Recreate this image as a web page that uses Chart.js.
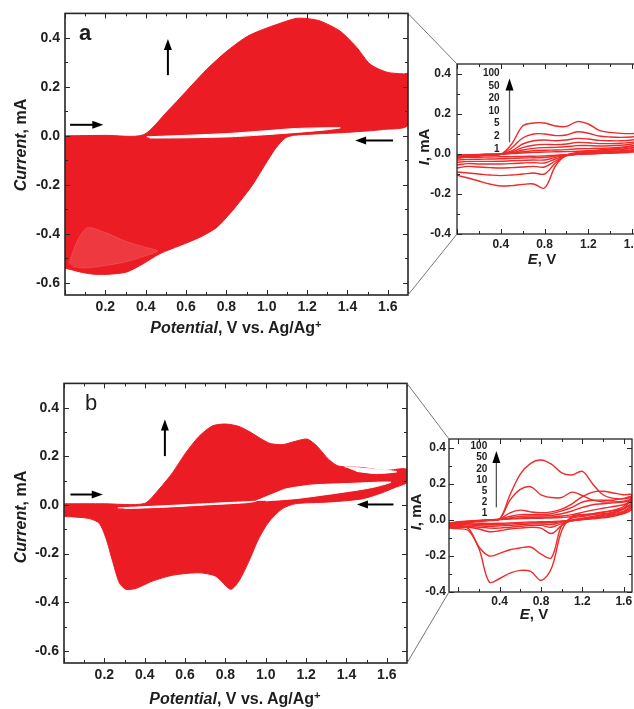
<!DOCTYPE html>
<html>
<head>
<meta charset="utf-8">
<script src="https://cdn.jsdelivr.net/npm/chart.js@4.4.1/dist/chart.umd.min.js"></script>
<style>
  html, body { margin: 0; padding: 0; background: #fff; overflow: hidden; }
  #fig { position: relative; width: 634px; height: 709px; overflow: hidden;
         font-family: "Liberation Sans", Arial, sans-serif; color: #1e1e1e; }
  canvas { position: absolute; }
  #links { position: absolute; left: 0; top: 0; pointer-events: none; }
  .t { position: absolute; font-weight: bold; white-space: nowrap; line-height: 1; }
  .c { transform: translate(-50%, -50%); }
  .r { transform: translate(-50%, -50%) rotate(-90deg); }
  .ra { transform: translate(-100%, -50%); font-size: 10px; }
  .big { font-size: 16px; }
  .small { font-size: 15px; }
  sup { font-size: 0.7em; line-height: 0; vertical-align: 0.45em; }
</style>
</head>
<body>
<div id="fig">
  <canvas id="mainA" width="420" height="340" style="left:0;top:0"></canvas>
  <canvas id="mainB" width="420" height="339" style="left:0;top:370px"></canvas>
  <canvas id="insetA" width="260" height="240" style="left:400px;top:40px"></canvas>
  <canvas id="insetB" width="240" height="230" style="left:400px;top:410px"></canvas>
  <svg id="links" width="634" height="709"></svg>

  <div class="t c" style="left:85px;top:33px;font-size:22px">a</div>
  <div class="t c" style="left:91px;top:403px;font-size:22px;font-weight:normal">b</div>

  <div class="t r big" style="left:21px;top:145px"><i>Current</i>, mA</div>
  <div class="t c big" style="left:236px;top:328px"><i>Potential</i>, V vs. Ag/Ag<sup>+</sup></div>
  <div class="t r big" style="left:21px;top:517px"><i>Current</i>, mA</div>
  <div class="t c big" style="left:235px;top:699px"><i>Potential</i>, V vs. Ag/Ag<sup>+</sup></div>

  <div class="t r small" style="left:423px;top:147px"><i>I</i>, mA</div>
  <div class="t c small" style="left:542px;top:258px"><i>E</i>, V</div>
  <div class="t r small" style="left:415px;top:512px"><i>I</i>, mA</div>
  <div class="t c small" style="left:534px;top:613px"><i>E</i>, V</div>
  <div id="ratesA"></div>
  <div id="ratesB"></div>
</div>
<script>
// colours
const RED = '#ec1c24';
const LINE_RED = '#ef2a2a';

// tick labels
const MAIN_X_TICKS = [0.2, 0.4, 0.6, 0.8, 1.0, 1.2, 1.4, 1.6];
const MAIN_Y_TICKS = [-0.6, -0.4, -0.2, 0.0, 0.2, 0.4];
const INSET_X_TICKS = [0.4, 0.8, 1.2, 1.6];
const INSET_Y_TICKS = [-0.4, -0.2, 0.0, 0.2, 0.4];

// scan rates (mV/s) listed in the insets
const RATES = ['100', '50', '20', '10', '5', '2', '1'];

// panel a: outline of the region swept by the repeated cycles (E in V, I in mA)
const envA_E = [0, 0.2, 0.388, 0.504, 0.603, 0.702, 0.801, 0.901, 0.983, 1.1,
  1.149, 1.2, 1.264, 1.363, 1.446, 1.512, 1.595, 1.677, 1.7, 1.7,
  1.578, 1.413, 1.248, 1.132, 1.09, 1.045, 0.99, 0.93, 0.87, 0.82,
  0.752, 0.669, 0.57, 0.471, 0.388, 0.306, 0.223, 0.14, 0.074, 0];
const envA_I = [0, 0.002, 0.004, 0.097, 0.184, 0.271, 0.345, 0.405, 0.435, 0.469,
  0.48, 0.479, 0.469, 0.428, 0.361, 0.293, 0.26, 0.253, 0.253, 0.044,
  0.026, 0.015, 0.008, 0.002, -0.01, -0.05, -0.12, -0.2, -0.265, -0.315,
  -0.374, -0.414, -0.448, -0.481, -0.522, -0.556, -0.565, -0.565, -0.556, -0.54];
// open gap between the forward and reverse sweeps
const holeA_E = [0.405, 0.6, 0.818, 0.983, 1.147, 1.363, 1.3, 1.147, 0.983, 0.818, 0.6, 0.42];
const holeA_I = [-0.004, 0.002, 0.01, 0.02, 0.03, 0.033, 0.025, 0.014, 0.004, -0.004, -0.008, -0.009];
// paler crescent near the cathodic limit
const shadeA_E = [0.02, 0.06, 0.11, 0.2, 0.3, 0.4, 0.46, 0.4, 0.3, 0.2, 0.1, 0.04];
const shadeA_I = [-0.52, -0.43, -0.375, -0.395, -0.43, -0.455, -0.47, -0.49, -0.515, -0.53, -0.54, -0.535];

// panel b: outline and open gaps
const envB_E = [0, 0.2, 0.398, 0.472, 0.538, 0.604, 0.669, 0.735, 0.801, 0.867,
  0.916, 1.015, 1.081, 1.147, 1.205, 1.254, 1.312, 1.361, 1.476, 1.592,
  1.7, 1.7, 1.641, 1.559, 1.476, 1.312, 1.147, 1.081, 1.015, 0.966,
  0.916, 0.867, 0.826, 0.752, 0.669, 0.538, 0.439, 0.357, 0.307, 0.274,
  0.241, 0.208, 0.175, 0.126, 0.043, 0];
const envB_I = [0.005, 0.005, 0.006, 0.066, 0.133, 0.215, 0.282, 0.325, 0.333, 0.323,
  0.303, 0.255, 0.248, 0.262, 0.271, 0.242, 0.187, 0.16, 0.154, 0.142,
  0.147, 0.093, 0.072, 0.045, 0.025, 0.012, 0.005, -0.016, -0.07, -0.137,
  -0.232, -0.313, -0.347, -0.293, -0.279, -0.289, -0.313, -0.343, -0.347, -0.32,
  -0.232, -0.137, -0.076, -0.056, -0.049, -0.047];
const holeB1_E = [0.266, 0.5, 0.7, 0.867, 0.95, 0.9, 0.7, 0.5, 0.3];
const holeB1_I = [-0.012, -0.003, 0.005, 0.012, 0.015, 0.009, 0.0, -0.009, -0.015];
const holeB2_E = [0.95, 1.05, 1.1, 1.23, 1.4, 1.62, 1.55, 1.476, 1.312, 1.147, 1.0];
const holeB2_I = [0.016, 0.05, 0.066, 0.082, 0.088, 0.094, 0.076, 0.064, 0.044, 0.026, 0.017];
const holeB3_E = [1.39, 1.5, 1.65, 1.55, 1.45];
const holeB3_I = [0.157, 0.15, 0.137, 0.129, 0.138];

// inset a: potential grid, forward sweep (rising E) and reverse sweep (falling E), one row per rate
const insetA_E = [0, 0.1, 0.2, 0.3, 0.4, 0.5, 0.6, 0.7, 0.8, 0.9, 1.0, 1.1, 1.2, 1.3, 1.4, 1.5, 1.6, 1.7];
const insetA_fwd = [
  [-0.02, -0.015, -0.01, -0.006, -0.002, 0.05, 0.14, 0.155, 0.155, 0.14, 0.138, 0.162, 0.15, 0.118, 0.108, 0.103, 0.102, 0.102],
  [-0.018, -0.013, -0.009, -0.005, -0.002, 0.03, 0.08, 0.1, 0.1, 0.092, 0.095, 0.111, 0.104, 0.09, 0.085, 0.083, 0.085, 0.09],
  [-0.015, -0.01, -0.007, -0.004, -0.001, 0.015, 0.05, 0.066, 0.07, 0.066, 0.07, 0.078, 0.075, 0.068, 0.066, 0.066, 0.07, 0.08],
  [-0.012, -0.008, -0.005, -0.003, -0.001, 0.01, 0.032, 0.044, 0.048, 0.047, 0.05, 0.058, 0.056, 0.052, 0.052, 0.054, 0.058, 0.068],
  [-0.01, -0.007, -0.004, -0.002, 0, 0.006, 0.02, 0.028, 0.032, 0.033, 0.036, 0.042, 0.042, 0.04, 0.041, 0.044, 0.05, 0.06],
  [-0.008, -0.005, -0.003, -0.001, 0, 0.004, 0.011, 0.016, 0.019, 0.02, 0.022, 0.026, 0.027, 0.028, 0.03, 0.034, 0.04, 0.05],
  [-0.006, -0.004, -0.002, -0.001, 0, 0.002, 0.005, 0.008, 0.01, 0.011, 0.012, 0.014, 0.016, 0.018, 0.02, 0.024, 0.03, 0.04]
];
const insetA_rev = [
  [0.06, 0.04, 0.03, 0.025, 0.02, 0.015, 0.008, -0.005, -0.06, -0.17, -0.15, -0.152, -0.158, -0.16, -0.15, -0.135, -0.12, -0.107],
  [0.05, 0.03, 0.022, 0.018, 0.014, 0.01, 0.004, -0.008, -0.045, -0.1, -0.095, -0.1, -0.105, -0.108, -0.105, -0.1, -0.095, -0.09],
  [0.04, 0.022, 0.016, 0.012, 0.01, 0.006, 0.0, -0.008, -0.035, -0.065, -0.062, -0.065, -0.068, -0.07, -0.068, -0.065, -0.062, -0.07],
  [0.035, 0.018, 0.012, 0.009, 0.007, 0.004, -0.002, -0.008, -0.025, -0.045, -0.043, -0.045, -0.048, -0.05, -0.05, -0.05, -0.048, -0.055],
  [0.03, 0.015, 0.01, 0.007, 0.005, 0.003, -0.001, -0.006, -0.017, -0.03, -0.03, -0.032, -0.034, -0.036, -0.037, -0.037, -0.037, -0.042],
  [0.025, 0.012, 0.008, 0.005, 0.003, 0.001, -0.001, -0.004, -0.01, -0.018, -0.019, -0.02, -0.022, -0.024, -0.025, -0.026, -0.027, -0.03],
  [0.02, 0.01, 0.006, 0.004, 0.002, 0, -0.001, -0.003, -0.006, -0.01, -0.011, -0.012, -0.013, -0.014, -0.015, -0.016, -0.017, -0.02]
];

// inset b
const insetB_E = [-0.09, 0, 0.1, 0.2, 0.3, 0.4, 0.5, 0.6, 0.7, 0.8, 0.9, 1.0, 1.1, 1.2, 1.3, 1.4, 1.5, 1.6, 1.68];
const insetB_fwd = [
  [-0.04, -0.03, -0.015, -0.005, 0.0, 0.006, 0.14, 0.255, 0.315, 0.333, 0.31, 0.262, 0.25, 0.27, 0.2, 0.14, 0.12, 0.118, 0.125],
  [-0.035, -0.028, -0.015, -0.008, -0.003, 0.005, 0.11, 0.17, 0.185, 0.14, 0.125, 0.125, 0.155, 0.135, 0.11, 0.1, 0.1, 0.105, 0.115],
  [-0.03, -0.022, -0.012, -0.006, -0.002, 0.005, 0.04, 0.055, 0.045, 0.04, 0.045, 0.06, 0.09, 0.13, 0.155, 0.16, 0.15, 0.14, 0.14],
  [-0.025, -0.017, -0.01, -0.005, 0.0, 0.005, 0.02, 0.03, 0.03, 0.03, 0.035, 0.05, 0.07, 0.1, 0.11, 0.11, 0.11, 0.12, 0.13],
  [-0.022, -0.014, -0.008, -0.004, 0, 0.004, 0.012, 0.02, 0.022, 0.022, 0.025, 0.035, 0.05, 0.07, 0.085, 0.09, 0.095, 0.1, 0.11],
  [-0.02, -0.012, -0.007, -0.003, 0, 0.003, 0.008, 0.012, 0.014, 0.015, 0.017, 0.022, 0.03, 0.042, 0.055, 0.065, 0.075, 0.085, 0.1],
  [-0.017, -0.01, -0.006, -0.003, 0, 0.002, 0.005, 0.008, 0.009, 0.01, 0.011, 0.014, 0.018, 0.025, 0.033, 0.042, 0.052, 0.065, 0.085]
];
const insetB_rev = [
  [0.125, 0.075, 0.055, 0.045, 0.035, 0.03, 0.02, -0.06, -0.27, -0.335, -0.285, -0.28, -0.295, -0.325, -0.345, -0.16, -0.06, -0.048, -0.045],
  [0.115, 0.065, 0.045, 0.035, 0.03, 0.02, 0.01, -0.03, -0.21, -0.19, -0.15, -0.155, -0.165, -0.185, -0.2, -0.15, -0.048, -0.042, -0.04],
  [0.1, 0.06, 0.04, 0.03, 0.02, 0.01, 0.0, -0.03, -0.075, -0.045, -0.04, -0.045, -0.05, -0.06, -0.065, -0.05, -0.04, -0.035, -0.032],
  [0.09, 0.05, 0.035, 0.025, 0.015, 0.005, -0.005, -0.02, -0.04, -0.03, -0.03, -0.035, -0.04, -0.045, -0.045, -0.04, -0.035, -0.03, -0.028],
  [0.08, 0.045, 0.03, 0.02, 0.012, 0.004, -0.004, -0.012, -0.025, -0.022, -0.022, -0.025, -0.03, -0.033, -0.035, -0.032, -0.028, -0.025, -0.024],
  [0.07, 0.04, 0.025, 0.016, 0.01, 0.003, -0.003, -0.008, -0.015, -0.015, -0.016, -0.018, -0.022, -0.025, -0.026, -0.025, -0.022, -0.02, -0.02],
  [0.06, 0.035, 0.02, 0.012, 0.007, 0.002, -0.002, -0.005, -0.009, -0.01, -0.011, -0.013, -0.016, -0.018, -0.019, -0.018, -0.017, -0.016, -0.015]
];

// sweep-direction arrows, [E1, I1, E2, I2] in data units (tail -> head)
const arrowsA = [[0.025, 0.045, 0.19, 0.045], [0.51, 0.248, 0.51, 0.395], [1.626, -0.019, 1.438, -0.019]];
const arrowsB = [[0.032, 0.043, 0.192, 0.043], [0.5, 0.201, 0.5, 0.352], [1.633, 0.002, 1.452, 0.002]];
const arrowInsetA = [[0.48, 0.058, 0.48, 0.378]];
const arrowInsetB = [[0.368, 0.07, 0.368, 0.383]];

const FONT = '"Liberation Sans", Arial, sans-serif';
const pts = (xs, ys) => xs.map((x, i) => ({x: x, y: ys[i]}));
const loop = (E, f, r) => pts(E, f).concat(pts(E.slice().reverse(), r));

// box frame with inward ticks on all four sides
const frameTicks = {
  id: 'frameTicks',
  afterDatasetsDraw(chart, args, o) {
    const {ctx, chartArea: a} = chart;
    const sx = chart.scales.x, sy = chart.scales.y;
    const isMajor = (v, m) => Math.abs(v / m - Math.round(v / m)) < 1e-6;
    ctx.save();
    ctx.strokeStyle = '#262626';
    ctx.lineWidth = 1;
    ctx.beginPath();
    for (let i = 0; ; i++) {
      const v = o.x0 + i * o.xStep;
      if (v > sx.max + 1e-9) break;
      const p = Math.round(sx.getPixelForValue(v)) + 0.5;
      const n = isMajor(v, o.xMajor) ? 5 : 3;
      ctx.moveTo(p, a.bottom); ctx.lineTo(p, a.bottom - n);
      ctx.moveTo(p, a.top); ctx.lineTo(p, a.top + n);
    }
    for (let i = 0; ; i++) {
      const v = o.y0 + i * o.yStep;
      if (v > sy.max + 1e-9) break;
      const p = Math.round(sy.getPixelForValue(v)) + 0.5;
      const n = isMajor(v, o.yMajor) ? 5 : 3;
      ctx.moveTo(a.left, p); ctx.lineTo(a.left + n, p);
      ctx.moveTo(a.right, p); ctx.lineTo(a.right - n, p);
    }
    ctx.stroke();
    ctx.lineWidth = o.lw;
    ctx.strokeRect(a.left, a.top, a.right - a.left, a.bottom - a.top);
    ctx.restore();
  }
};

// arrows placed in data coordinates
const arrowMarks = {
  id: 'arrowMarks',
  afterDatasetsDraw(chart, args, o) {
    if (!o.list) return;
    const {ctx} = chart;
    const sx = chart.scales.x, sy = chart.scales.y;
    ctx.save();
    o.list.forEach(ar => {
      const x1 = sx.getPixelForValue(ar[0]), y1 = sy.getPixelForValue(ar[1]);
      const x2 = sx.getPixelForValue(ar[2]), y2 = sy.getPixelForValue(ar[3]);
      const ang = Math.atan2(y2 - y1, x2 - x1);
      const c = Math.cos(ang), s = Math.sin(ang);
      ctx.strokeStyle = o.shaft;
      ctx.lineWidth = o.width;
      ctx.beginPath();
      ctx.moveTo(x1, y1);
      ctx.lineTo(x2 - o.head * 0.7 * c, y2 - o.head * 0.7 * s);
      ctx.stroke();
      ctx.fillStyle = '#000';
      ctx.beginPath();
      ctx.moveTo(x2, y2);
      ctx.lineTo(x2 - o.head * c - o.half * s, y2 - o.head * s + o.half * c);
      ctx.lineTo(x2 - o.head * c + o.half * s, y2 - o.head * s - o.half * c);
      ctx.closePath();
      ctx.fill();
    });
    ctx.restore();
  }
};

function region(data, color, order) {
  return {data: data, fill: 'shape', backgroundColor: color, borderColor: color,
          borderWidth: 1, pointRadius: 0, tension: 0.25, order: order};
}

function axes(xr, yr, xt, yt, fs, w, h, pad) {
  const tickFont = {family: FONT, size: fs, weight: 'bold'};
  return {
    x: {type: 'linear', min: xr[0], max: xr[1],
        grid: {display: false, drawTicks: false}, border: {display: false},
        ticks: {font: tickFont, color: '#222', padding: pad[0], maxRotation: 0, autoSkip: false,
                callback: v => v.toFixed(1)},
        afterBuildTicks: s => { s.ticks = xt.map(v => ({value: v})); },
        afterFit: s => { s.height = h; }},
    y: {type: 'linear', min: yr[0], max: yr[1],
        grid: {display: false, drawTicks: false}, border: {display: false},
        ticks: {font: tickFont, color: '#222', padding: pad[1], autoSkip: false,
                callback: v => v.toFixed(1)},
        afterBuildTicks: s => { s.ticks = yt.map(v => ({value: v})); },
        afterFit: s => { s.width = w; }}
  };
}

function baseOptions(scales, padding, frame, arrows) {
  return {
    responsive: false, animation: false, events: [],
    layout: {padding: padding},
    scales: scales,
    plugins: {legend: {display: false}, tooltip: {enabled: false},
              frameTicks: frame, arrowMarks: arrows}
  };
}

const mainFrame = {x0: 0, xStep: 0.1, xMajor: 0.2, y0: -0.6, yStep: 0.1, yMajor: 0.2, lw: 1.6};
const insetFrame = {x0: 0, xStep: 0.2, xMajor: 0.4, y0: -0.4, yStep: 0.1, yMajor: 0.2, lw: 1.3};

const chartA = new Chart(document.getElementById('mainA'), {
  type: 'line',
  data: {datasets: [
    region(pts(holeA_E, holeA_I), '#ffffff', 1),
    region(pts(shadeA_E, shadeA_I), 'rgba(255,255,255,0.13)', 2),
    region(pts(envA_E, envA_I), RED, 3)
  ]},
  options: baseOptions(axes([0, 1.7], [-0.65, 0.5], MAIN_X_TICKS, MAIN_Y_TICKS, 14, 65, 45, [4, 5]),
    {top: 11, right: 12, left: 0, bottom: 0}, mainFrame,
    {list: arrowsA, head: 11, half: 4, width: 2, shaft: '#000'}),
  plugins: [frameTicks, arrowMarks]
});

const chartB = new Chart(document.getElementById('mainB'), {
  type: 'line',
  data: {datasets: [
    region(pts(holeB1_E, holeB1_I), '#ffffff', 1),
    region(pts(holeB2_E, holeB2_I), '#ffffff', 1),
    region(pts(holeB3_E, holeB3_I), '#ffffff', 1),
    region(pts(envB_E, envB_I), RED, 3)
  ]},
  options: baseOptions(axes([0, 1.7], [-0.65, 0.5], MAIN_X_TICKS, MAIN_Y_TICKS, 14, 64, 46, [4, 5]),
    {top: 9, right: 13, left: 0, bottom: 0}, mainFrame,
    {list: arrowsB, head: 11, half: 4, width: 2, shaft: '#000'}),
  plugins: [frameTicks, arrowMarks]
});

function cvSets(E, fwd, rev) {
  return RATES.map((r, i) => ({label: r + ' mV/s', data: loop(E, fwd[i], rev[i]),
    borderColor: LINE_RED, borderWidth: 1.4, pointRadius: 0, tension: 0.35, fill: false}));
}

const chartIA = new Chart(document.getElementById('insetA'), {
  type: 'line',
  data: {datasets: cvSets(insetA_E, insetA_fwd, insetA_rev)},
  options: baseOptions(axes([0, 1.7], [-0.4, 0.45], INSET_X_TICKS, INSET_Y_TICKS, 12, 57, 46, [3, 6]),
    {top: 24, right: 17, left: 0, bottom: 0}, insetFrame,
    {list: arrowInsetA, head: 12, half: 4, width: 1.3, shaft: '#555'}),
  plugins: [frameTicks, arrowMarks]
});

const chartIB = new Chart(document.getElementById('insetB'), {
  type: 'line',
  data: {datasets: cvSets(insetB_E, insetB_fwd, insetB_rev)},
  options: baseOptions(axes([-0.09, 1.68], [-0.4, 0.45], INSET_X_TICKS, INSET_Y_TICKS, 12, 49, 48, [2, 3]),
    {top: 29, right: 8, left: 0, bottom: 0}, insetFrame,
    {list: arrowInsetB, head: 12, half: 4, width: 1.3, shaft: '#555'}),
  plugins: [frameTicks, arrowMarks]
});

// rate labels beside the inset arrows, stacked top (fastest) to bottom
function rateLabels(id, chart, pos, E, top, step) {
  const box = document.getElementById(id);
  const x = pos[0] + chart.scales.x.getPixelForValue(E);
  RATES.forEach((r, i) => {
    const d = document.createElement('div');
    d.className = 't ra';
    d.textContent = r;
    d.style.left = x + 'px';
    d.style.top = (pos[1] + chart.scales.y.getPixelForValue(top - i * step)) + 'px';
    box.appendChild(d);
  });
}
rateLabels('ratesA', chartIA, [400, 40], 0.39, 0.405, 0.063);
rateLabels('ratesB', chartIB, [400, 410], 0.28, 0.41, 0.062);

// zoom-style connector lines from each main frame to its inset
const svg = document.getElementById('links');
function connect(main, mp, inset, ip) {
  const a = main.chartArea, b = inset.chartArea;
  [[a.top, b.top], [a.bottom, b.bottom]].forEach(pair => {
    const l = document.createElementNS('http://www.w3.org/2000/svg', 'line');
    l.setAttribute('x1', mp[0] + a.right);
    l.setAttribute('y1', mp[1] + pair[0]);
    l.setAttribute('x2', ip[0] + b.left);
    l.setAttribute('y2', ip[1] + pair[1]);
    l.setAttribute('stroke', '#777');
    l.setAttribute('stroke-width', '1');
    svg.appendChild(l);
  });
}
connect(chartA, [0, 0], chartIA, [400, 40]);
connect(chartB, [0, 370], chartIB, [400, 410]);
</script>
</body>
</html>
